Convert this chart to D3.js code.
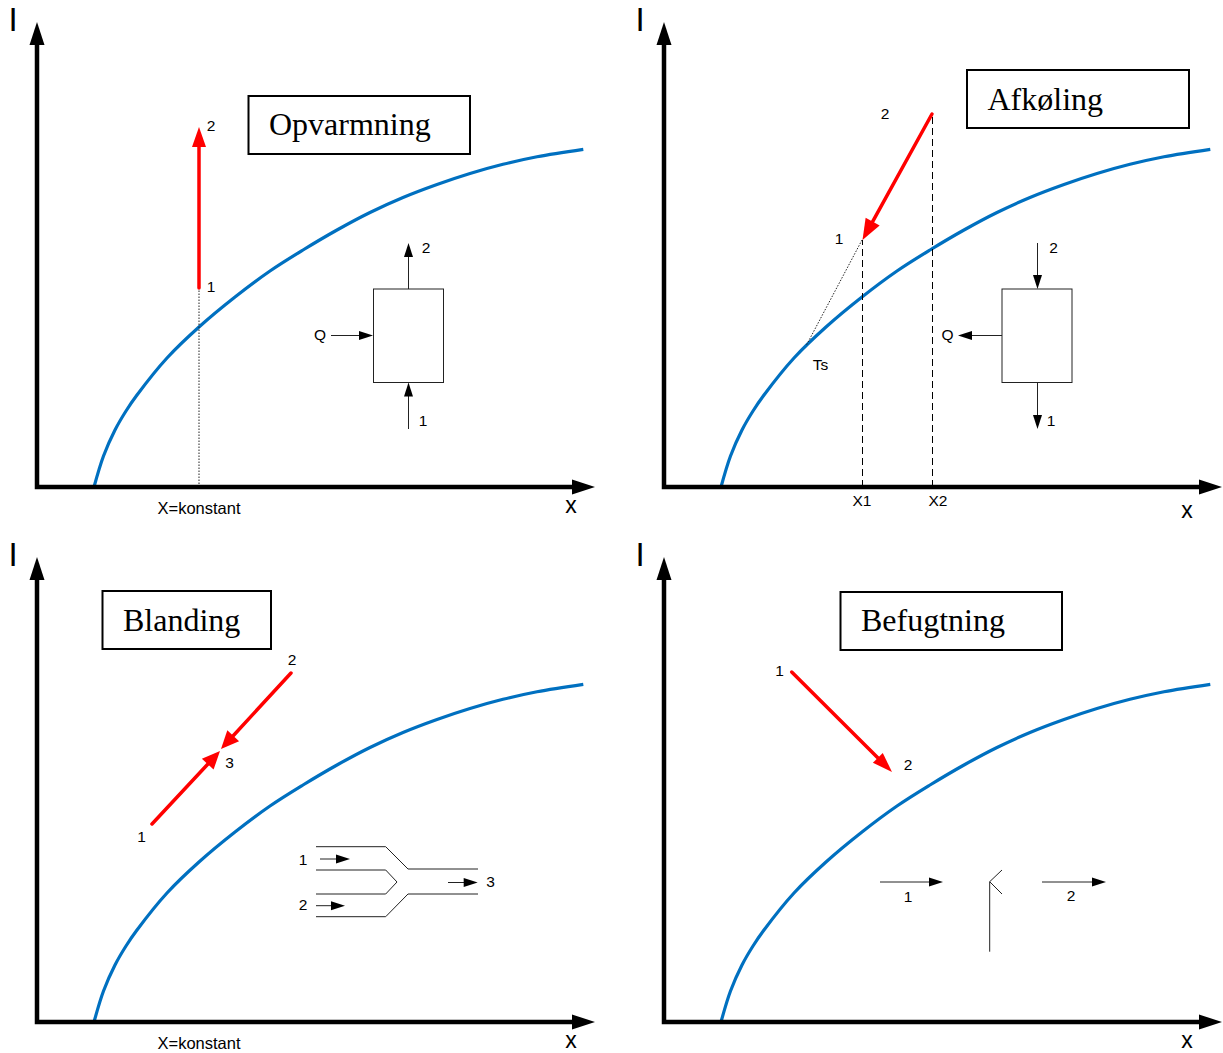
<!DOCTYPE html>
<html>
<head>
<meta charset="utf-8">
<script src="https://cdn.jsdelivr.net/npm/d3@7"></script>
<style>
  html, body { margin: 0; padding: 0; background: #fff; }
  svg { display: block; }
  text { font-family: "Liberation Sans", Arial, sans-serif; fill: #000; }
  .title { font-family: "Liberation Serif", "Times New Roman", serif; }
</style>
</head>
<body>
<svg id="chart" width="1223" height="1053"></svg>
<script>
// all values are chart units, origin at the axes corner
var axisLengthX = 558;
var axisLengthY = 465;
var panelOrigins = [[37, 487], [664, 487], [37, 1022], [664, 1022]];

var curvePoints = [[57, 0], [66.5, 31], [78, 57], [89, 76], [100, 92], [130, 129], [162, 160], [198, 190], [233, 216],
  [266, 237], [300, 257], [333, 274.5], [366, 289.5], [400, 302.5], [433, 313.5], [466, 322.7], [500, 330.3], [546.3, 337.7]];

var titles = ["Opvarmning", "Afkøling", "Blanding", "Befugtning"];
// x, y of the lower left and upper right corner of each title box
var titleBoxes = [[211.5, 333, 433, 391], [303, 359, 525, 417], [65.5, 373, 234, 431], [176.5, 372, 398, 430]];
var titleBaselines = [352, 377, 391, 391];
var axisNameXSpots = [[534, -26], [523, -31], [534, -26], [523, -26]];

var redArrows = [
  [[[162, 199], [162, 360]]],
  [[[268, 373], [198.5, 247]]],
  [[[115, 198], [183, 271]], [[254, 349], [184, 273]]],
  [[[127.7, 350], [228, 250]]]
];
var redHeadLength = [20, 21, 18, 20];
var redHeadHalf = [7, 8, 8, 7];
var dottedLines = [
  [[[162, 0], [162, 199]]],
  [[[198, 247], [142, 141]]],
  [],
  []
];
var dashedLines = [
  [],
  [[[198.5, 0], [198.5, 247]], [[268.5, 0], [268.5, 373]]],
  [],
  []
];
var unitBoxes = [
  [[336.5, 104.5, 406.5, 198]],
  [[338, 104.5, 408, 198]],
  [],
  []
];
var smallArrows = [
  [[[371.5, 198], [371.5, 244]], [[371.5, 58], [371.5, 104.5]], [[294, 151.5], [336, 151.5]]],
  [[[373.5, 244], [373.5, 198]], [[338, 151.5], [294, 151.5]], [[373.5, 104.5], [373.5, 58]]],
  [[[283, 163], [313, 163]], [[279, 116.3], [308, 116.3]], [[411, 139.5], [440.7, 139.5]]],
  [[[216, 140], [279, 140]], [[378, 140], [442, 140]]]
];
var thinPaths = [
  [],
  [],
  [
    [[279, 175.3], [348.7, 175.3], [371, 153], [441, 153]],
    [[279, 152], [348.7, 152], [360, 140], [348.7, 128], [279, 128]],
    [[279, 105.3], [348.7, 105.3], [371, 128], [441, 128]]
  ],
  [
    [[325.7, 70.3], [325.7, 140.3]],
    [[338, 152], [325.7, 140.3], [338, 128]]
  ]
];
// text, x, y (centre of the glyphs)
var labels = [
  [["2", 174, 361], ["1", 174, 200], ["2", 389, 239], ["1", 386, 66], ["Q", 283, 152], ["X=konstant", 162, -22]],
  [["2", 221, 373], ["1", 175, 248], ["Ts", 156.5, 122], ["X1", 198, -14], ["X2", 274, -14], ["Q", 283.5, 152], ["2", 389.5, 239], ["1", 387, 66]],
  [["2", 255, 362], ["3", 192.5, 259], ["1", 104.5, 185], ["1", 266, 162], ["2", 266, 117], ["3", 453.5, 140], ["X=konstant", 162, -22]],
  [["1", 115.5, 351], ["2", 244, 257], ["1", 244, 125], ["2", 407, 126]]
];
var axisNameY = "I";
var axisNameX = "x";

var svg = d3.select("#chart");
var line = d3.line();

function backOff(from, to, dist) {
  var a = Math.atan2(to[1] - from[1], to[0] - from[0]);
  return [to[0] - dist * Math.cos(a), to[1] - dist * Math.sin(a)];
}

function arrowHead(g, from, to, len, half, color) {
  var a = Math.atan2(to[1] - from[1], to[0] - from[0]);
  var b = backOff(from, to, len);
  var nx = -Math.sin(a) * half;
  var ny = Math.cos(a) * half;
  g.append("polygon")
    .attr("points", [to, [b[0] + nx, b[1] + ny], [b[0] - nx, b[1] - ny]].map(function (p) { return p.join(","); }).join(" "))
    .attr("fill", color);
}

panelOrigins.forEach(function (o, i) {
  var x = d3.scaleLinear().domain([0, axisLengthX]).range([o[0], o[0] + axisLengthX]);
  var y = d3.scaleLinear().domain([0, axisLengthY]).range([o[1], o[1] - axisLengthY]);
  var px = function (d) { return [x(d[0]), y(d[1])]; };
  var g = svg.append("g");

  // blue saturation curve
  g.append("path")
    .attr("d", d3.line().x(function (d) { return x(d[0]); }).y(function (d) { return y(d[1]); }).curve(d3.curveCatmullRom)(curvePoints))
    .attr("fill", "none")
    .attr("stroke", "#0070c0")
    .attr("stroke-width", 3.2);

  // thin helper lines
  dottedLines[i].forEach(function (d) {
    g.append("path").attr("d", line(d.map(px))).attr("fill", "none")
      .attr("stroke", "#222").attr("stroke-width", 1).attr("stroke-dasharray", "1.5,1.5");
  });
  dashedLines[i].forEach(function (d) {
    g.append("path").attr("d", line(d.map(px))).attr("fill", "none")
      .attr("stroke", "#000").attr("stroke-width", 1).attr("stroke-dasharray", "7,4");
  });

  // axes
  g.append("path")
    .attr("d", line([px([0, axisLengthY - 20]), px([0, 0]), px([axisLengthX - 20, 0])]))
    .attr("fill", "none").attr("stroke", "#000").attr("stroke-width", 4.5)
    .attr("stroke-linecap", "square");
  arrowHead(g, px([0, 0]), px([0, axisLengthY]), 23, 7.5, "#000");
  arrowHead(g, px([0, 0]), px([axisLengthX, 0]), 23, 7.5, "#000");
  g.append("text").attr("x", x(-24)).attr("y", y(456)).attr("text-anchor", "middle")
    .attr("font-size", 33).text(axisNameY);
  g.append("text").attr("x", x(axisNameXSpots[i][0])).attr("y", y(axisNameXSpots[i][1])).attr("text-anchor", "middle")
    .attr("font-size", 23).text(axisNameX);

  // title box
  var b = titleBoxes[i];
  g.append("rect")
    .attr("x", x(b[0])).attr("y", y(b[3]))
    .attr("width", x(b[2]) - x(b[0])).attr("height", y(b[1]) - y(b[3]))
    .attr("fill", "#fff").attr("stroke", "#000").attr("stroke-width", 2);
  g.append("text").attr("class", "title")
    .attr("x", x(b[0]) + 20.5).attr("y", y(titleBaselines[i]))
    .attr("font-size", 32).text(titles[i]);

  // red state changes
  redArrows[i].forEach(function (d) {
    var p = d.map(px);
    g.append("path").attr("d", line([p[0], backOff(p[0], p[1], redHeadLength[i] - 2)]))
      .attr("stroke", "#ff0000").attr("stroke-width", 3.5)
      .attr("stroke-linecap", "round").attr("fill", "none");
    arrowHead(g, p[0], p[1], redHeadLength[i], redHeadHalf[i], "#ff0000");
  });

  // schematic
  unitBoxes[i].forEach(function (d) {
    g.append("rect")
      .attr("x", x(d[0])).attr("y", y(d[3]))
      .attr("width", x(d[2]) - x(d[0])).attr("height", y(d[1]) - y(d[3]))
      .attr("fill", "none").attr("stroke", "#222").attr("stroke-width", 1);
  });
  thinPaths[i].forEach(function (d) {
    g.append("path").attr("d", line(d.map(px))).attr("fill", "none")
      .attr("stroke", "#222").attr("stroke-width", 1);
  });
  smallArrows[i].forEach(function (d) {
    var p = d.map(px);
    g.append("path").attr("d", line([p[0], backOff(p[0], p[1], 10)])).attr("stroke", "#222").attr("stroke-width", 1).attr("fill", "none");
    arrowHead(g, p[0], p[1], 14, 4.5, "#000");
  });

  // labels
  labels[i].forEach(function (d) {
    g.append("text").attr("x", x(d[1])).attr("y", y(d[2]) + 4.5)
      .attr("text-anchor", "middle").attr("font-size", d[0].length > 2 ? 16.5 : 15.5).text(d[0]);
  });
});
</script>
</body>
</html>
